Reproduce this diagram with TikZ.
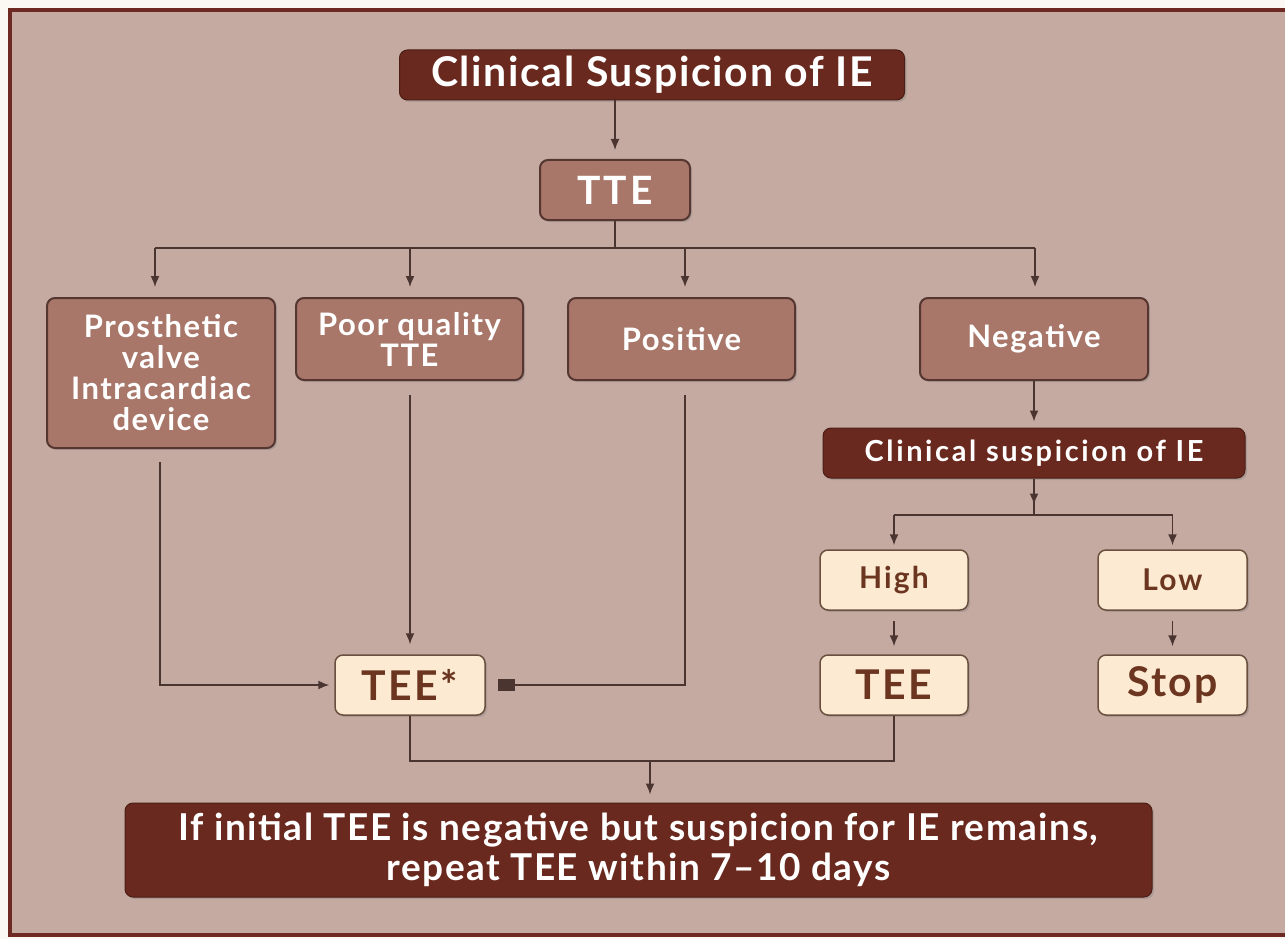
\documentclass[tikz,border=0pt]{standalone}
\usepackage{fontspec}
\setmainfont{Lato}
\usetikzlibrary{arrows.meta,shadows}
\definecolor{bgc}{HTML}{C5AAA1}
\definecolor{framec}{HTML}{6E2A22}
\definecolor{darkbox}{HTML}{6A291E}
\definecolor{midbox}{HTML}{A8776A}
\definecolor{midborder}{HTML}{553630}
\definecolor{cream}{HTML}{FCEBD2}
\definecolor{creamborder}{HTML}{6B5040}
\definecolor{creamtext}{HTML}{6B3520}
\definecolor{linec}{HTML}{4A3530}
\definecolor{outside}{HTML}{FBF7F3}
\newcommand{\myfnt}[3]{\bfseries\fontsize{#1}{#2}\selectfont\addfontfeature{LetterSpace=#3}}
\tikzset{
  basebox/.style={rounded corners=8pt, align=center, inner sep=2pt,
    drop shadow={opacity=0.35, shadow xshift=2pt, shadow yshift=-2pt}},
  darkstyle/.style={basebox, fill=darkbox, draw=darkbox!70!black, line width=1pt, text=white},
  midstyle/.style={basebox, fill=midbox, draw=midborder, line width=2pt, text=white, font=\myfnt{31}{31}{5}},
  creamstyle/.style={basebox, fill=cream, draw=creamborder, line width=1.5pt, text=creamtext},
  conn/.style={draw=linec, line width=1.6pt},
  arr/.style={conn, -{Latex[length=11pt,width=9pt]}},
}
\begin{document}
\begin{tikzpicture}[x=1pt,y=-1pt]
\useasboundingbox (0,0) rectangle (1285,939);
\fill[outside] (0,0) rectangle (1285,939);
\draw[framec, line width=4pt, fill=bgc] (10,10) rectangle (1295,935);

% nodes
\node[darkstyle, minimum width=505pt, minimum height=50pt, font=\myfnt{41}{41}{4}] (title) at (652,75) {Clinical Suspicion of IE};
\node[midstyle, minimum width=150pt, minimum height=60pt, font=\myfnt{39}{39}{8}] (tte) at (615,190) {TTE};
\node[midstyle, minimum width=228pt, minimum height=150pt] (pros) at (161,373) {Prosthetic\\valve\\Intracardiac\\device};
\node[midstyle, minimum width=227pt, minimum height=82pt] (poor) at (409.5,339) {Poor quality\\TTE};
\node[midstyle, minimum width=227pt, minimum height=82pt] (pos) at (681.5,339) {Positive};
\node[midstyle, minimum width=228pt, minimum height=82pt] (neg) at (1034,339) {Negative};
\node[darkstyle, minimum width=422pt, minimum height=50pt, font=\myfnt{29}{30}{9}] (cs) at (1034,453) {Clinical suspicion of IE};
\node[creamstyle, minimum width=148pt, minimum height=60pt, font=\myfnt{30}{30}{7}] (high) at (894,580) {High};
\node[creamstyle, minimum width=149pt, minimum height=60pt, font=\myfnt{30}{30}{7}] (low) at (1172.5,580) {Low};
\node[creamstyle, minimum width=148pt, minimum height=60pt, font=\myfnt{41}{41}{6}] (tee) at (894,685) {TEE};
\node[creamstyle, minimum width=149pt, minimum height=60pt, font=\myfnt{41}{41}{6}] (stop) at (1172.5,685) {Stop};
\node[creamstyle, minimum width=150pt, minimum height=60pt, font=\myfnt{41}{41}{6}] (teestar) at (410,685) {TEE*};
\node[darkstyle, minimum width=1027pt, minimum height=94pt, font=\myfnt{37}{40}{4}] (bottom) at (638.5,850) {If initial TEE is negative but suspicion for IE remains,\\repeat TEE within 7--10 days};

% coordinates
\coordinate (bus) at (615,248);
\coordinate (b1) at (155,248);
\coordinate (b2) at (410,248);
\coordinate (b3) at (685,248);
\coordinate (b4) at (1035,248);
\coordinate (p0) at (160,462);
\coordinate (pc) at (160,685);
\coordinate (q0) at (410,395);
\coordinate (r0) at (685,395);
\coordinate (rc) at (685,685);
\coordinate (s0) at (1034,515);
\coordinate (sl) at (894,515);
\coordinate (sr) at (1172.5,515);
\coordinate (j) at (650,760);

% connectors
\draw[arr, shorten >=9pt] (title.south -| tte) -- (tte.north);
\draw[conn] (tte.south) -- (bus);
\draw[conn] (b1) -- (b4);
\draw[arr, shorten >=10pt] (b1) -- (b1 |- pros.north);
\draw[arr, shorten >=10pt] (b2) -- (b2 |- poor.north);
\draw[arr, shorten >=10pt] (b3) -- (b3 |- pos.north);
\draw[arr, shorten >=10pt] (b4) -- (b4 |- neg.north);
\draw[arr, shorten >=6pt] (neg.south) -- (cs.north);
\draw[conn] (cs.south) -- (s0);
\draw[arr] (cs.south) -- ++(0,26);
\draw[conn] (sl) -- (sr);
\draw[arr, shorten >=4pt] (sl) -- (high.north);
\draw[arr, shorten >=4pt] (sr) -- (low.north);
\draw[arr, shorten <=10pt, shorten >=8pt] (high) -- (tee);
\draw[arr, shorten <=10pt, shorten >=8pt] (low) -- (stop);
\draw[arr, shorten >=5pt] (p0) -- (pc) -- (teestar.west);
\draw[arr, shorten >=10pt] (q0) -- (teestar.north);
\draw[conn, -{Square[length=17pt,width=12pt]}, shorten >=12pt] (r0) -- (rc) -- (teestar.east);
\draw[conn] (teestar.south) -- ++(0,45) -| (tee.south);
\draw[arr, shorten >=8pt] (j) -- (j |- bottom.north);
\end{tikzpicture}
\end{document}
